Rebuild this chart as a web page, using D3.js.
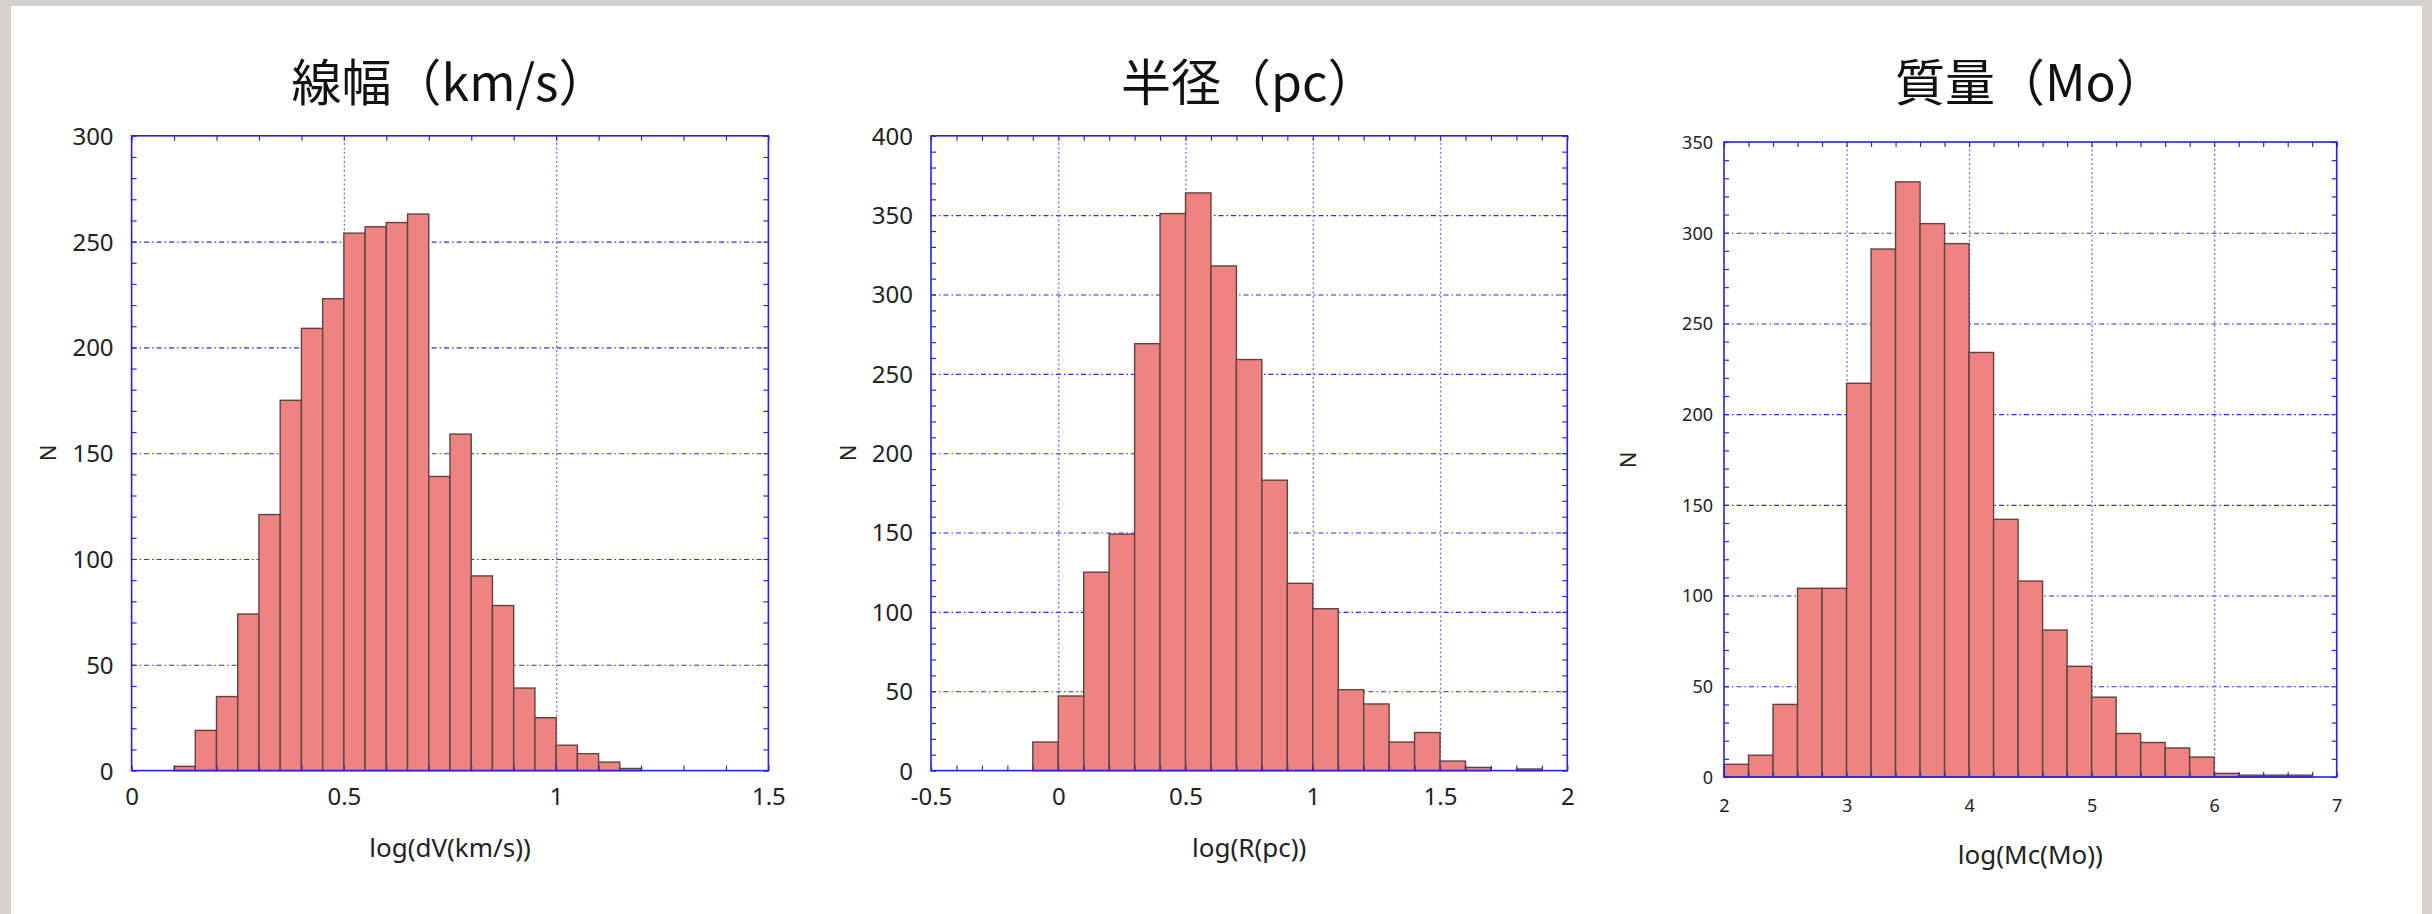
<!DOCTYPE html>
<html>
<head>
<meta charset="utf-8">
<script src="https://cdn.jsdelivr.net/npm/d3@7"></script>
<style>
  html, body { margin: 0; padding: 0; background: #d7d1ce; }
  svg { display: block; }
  .ticklab text { font-family: "Noto Sans", "DejaVu Sans", sans-serif; fill: #222; }
  .title { font-family: "Noto Sans CJK JP", sans-serif; fill: #111; }
  .axtitle { font-family: "Noto Sans", "DejaVu Sans", sans-serif; fill: #222; }
</style>
</head>
<body>
<svg id="fig" width="2432" height="914"></svg>
<script>
// Panel titles and axis titles
const titles = ["線幅（km/s）", "半径（pc）", "質量（Mo）"];
const xTitles = ["log(dV(km/s))", "log(R(pc))", "log(Mc(Mo))"];

// Line width histogram: log(dV), bins of 0.05 starting at 0.10
const dvBinStart = 0.10, dvBinWidth = 0.05;
const dvCounts = [2, 19, 35, 74, 121, 175, 209, 223, 254, 257, 259, 263, 139, 159, 92, 78, 39, 25, 12, 8, 4, 1];
const dvXTicks = [0, 0.5, 1, 1.5];
const dvYTicks = [0, 50, 100, 150, 200, 250, 300];

// Radius histogram: log(R), bins of 0.1 starting at -0.1
const rBinStart = -0.1, rBinWidth = 0.1;
const rCounts = [18, 47, 125, 149, 269, 351, 364, 318, 259, 183, 118, 102, 51, 42, 18, 24, 6, 2, 0, 1];
const rXTicks = [-0.5, 0, 0.5, 1, 1.5, 2];
const rYTicks = [0, 50, 100, 150, 200, 250, 300, 350, 400];

// Mass histogram: log(Mc), bins of 0.2 starting at 2.0
const mBinStart = 2.0, mBinWidth = 0.2;
const mCounts = [7, 12, 40, 104, 104, 217, 291, 328, 305, 294, 234, 142, 108, 81, 61, 44, 24, 19, 16, 11, 2, 1, 1, 1];
const mXTicks = [2, 3, 4, 5, 6, 7];
const mYTicks = [0, 50, 100, 150, 200, 250, 300, 350];

const svg = d3.select("#fig");

// white sheet over the grey backdrop
svg.append("rect").attr("x", 11).attr("y", 6).attr("width", 2411).attr("height", 920).attr("fill", "#ffffff");

const panels = [
  { title: titles[0], xTitle: xTitles[0], start: dvBinStart, width: dvBinWidth, counts: dvCounts,
    xTicks: dvXTicks, yTicks: dvYTicks, xMinor: 0.1, yMinor: 10,
    box: { l: 131.6, r: 768.4, t: 135.8, b: 770.6 }, font: 24, xLabY: 797, yLabGap: 18,
    nX: 48, nY: 453, titleY: 83, axTitleY: 848 },
  { title: titles[1], xTitle: xTitles[1], start: rBinStart, width: rBinWidth, counts: rCounts,
    xTicks: rXTicks, yTicks: rYTicks, xMinor: 0.1, yMinor: 10,
    box: { l: 931, r: 1567.3, t: 135.8, b: 770.6 }, font: 24, xLabY: 797, yLabGap: 18,
    nX: 848.5, nY: 453, titleY: 83, axTitleY: 848 },
  { title: titles[2], xTitle: xTitles[2], start: mBinStart, width: mBinWidth, counts: mCounts,
    xTicks: mXTicks, yTicks: mYTicks, xMinor: 0.2, yMinor: 10,
    box: { l: 1724, r: 2336.7, t: 142, b: 777 }, font: 18, xLabY: 805.5, yLabGap: 11,
    nX: 1628, nY: 460, titleY: 83, axTitleY: 855 }
];

function steps(lo, hi, step) {
  const out = [];
  const n = Math.round((hi - lo) / step);
  for (let i = 0; i <= n; i++) out.push(+(lo + i * step).toFixed(6));
  return out;
}

panels.forEach(p => {
  const { l, r, t, b } = p.box;
  const xDom = d3.extent(p.xTicks), yDom = d3.extent(p.yTicks);
  const x = d3.scaleLinear().domain(xDom).range([l, r]);
  const y = d3.scaleLinear().domain(yDom).range([b, t]);
  const g = svg.append("g");

  // grid: horizontal dash-dot, vertical dotted
  const gy = g.append("g").attr("transform", `translate(${l},0)`)
    .call(d3.axisLeft(y).tickValues(p.yTicks.slice(1, -1)).tickSize(-(r - l)).tickFormat(""));
  gy.select(".domain").remove();
  gy.selectAll("line").attr("stroke", "#2b2be0").attr("stroke-width", 1.1).attr("stroke-dasharray", "5,3,1.5,3");

  const gx = g.append("g").attr("transform", `translate(0,${b})`)
    .call(d3.axisBottom(x).tickValues(p.xTicks.slice(1, -1)).tickSize(-(b - t)).tickFormat(""));
  gx.select(".domain").remove();
  gx.selectAll("line").attr("stroke", "#7474f2").attr("stroke-width", 1.3).attr("stroke-dasharray", "2,2.5");

  // histogram bars
  const bins = p.counts.map((c, i) => ({ x0: p.start + i * p.width, x1: p.start + (i + 1) * p.width, n: c }));
  g.append("g").selectAll("rect").data(bins.filter(d => d.n > 0)).join("rect")
    .attr("x", d => x(d.x0))
    .attr("y", d => y(d.n))
    .attr("width", d => x(d.x1) - x(d.x0))
    .attr("height", d => y(0) - y(d.n))
    .attr("fill", "#ee8482")
    .attr("stroke", "#5e4242")
    .attr("stroke-width", 1.4);

  // minor ticks on all four sides, pointing inward
  const xm = steps(xDom[0], xDom[1], p.xMinor);
  const ym = steps(yDom[0], yDom[1], p.yMinor);
  const tickLen = 5;
  const sides = [
    { ax: d3.axisBottom(x).tickValues(xm), tr: `translate(0,${b})` },
    { ax: d3.axisTop(x).tickValues(xm), tr: `translate(0,${t})` },
    { ax: d3.axisLeft(y).tickValues(ym), tr: `translate(${l},0)` },
    { ax: d3.axisRight(y).tickValues(ym), tr: `translate(${r},0)` }
  ];
  sides.forEach(s => {
    const a = g.append("g").attr("transform", s.tr).call(s.ax.tickSize(-tickLen).tickFormat(""));
    a.select(".domain").remove();
    a.selectAll("line").attr("stroke", "#2a2ad8").attr("stroke-width", 1.2);
  });

  // frame
  g.append("rect").attr("x", l).attr("y", t).attr("width", r - l).attr("height", b - t)
    .attr("fill", "none").attr("stroke", "#2424dc").attr("stroke-width", 1.6);

  // tick labels
  const fmt = d => String(d);
  const lx = g.append("g").attr("class", "ticklab").attr("transform", `translate(0,${p.xLabY})`)
    .call(d3.axisBottom(x).tickValues(p.xTicks).tickSize(0).tickPadding(0).tickFormat(fmt));
  lx.select(".domain").remove();
  lx.selectAll("text").attr("font-size", p.font).attr("dy", "0.35em").attr("y", 0);

  const ly = g.append("g").attr("class", "ticklab").attr("transform", `translate(${l - p.yLabGap},0)`)
    .call(d3.axisLeft(y).tickValues(p.yTicks).tickSize(0).tickPadding(0).tickFormat(fmt));
  ly.select(".domain").remove();
  ly.selectAll("text").attr("font-size", p.font).attr("dy", "0.35em").attr("x", 0);

  // titles
  g.append("text").attr("class", "title")
    .attr("x", (l + r) / 2).attr("y", p.titleY).attr("dy", "0.35em")
    .attr("text-anchor", "middle").attr("font-size", 50).text(p.title);

  g.append("text").attr("class", "axtitle")
    .attr("x", (l + r) / 2).attr("y", p.axTitleY).attr("dy", "0.35em")
    .attr("text-anchor", "middle").attr("font-size", 26).text(p.xTitle);

  g.append("text").attr("class", "axtitle")
    .attr("transform", `translate(${p.nX},${p.nY}) rotate(-90)`)
    .attr("dy", "0.35em").attr("text-anchor", "middle").attr("font-size", 22).text("N");
});
</script>
</body>
</html>
